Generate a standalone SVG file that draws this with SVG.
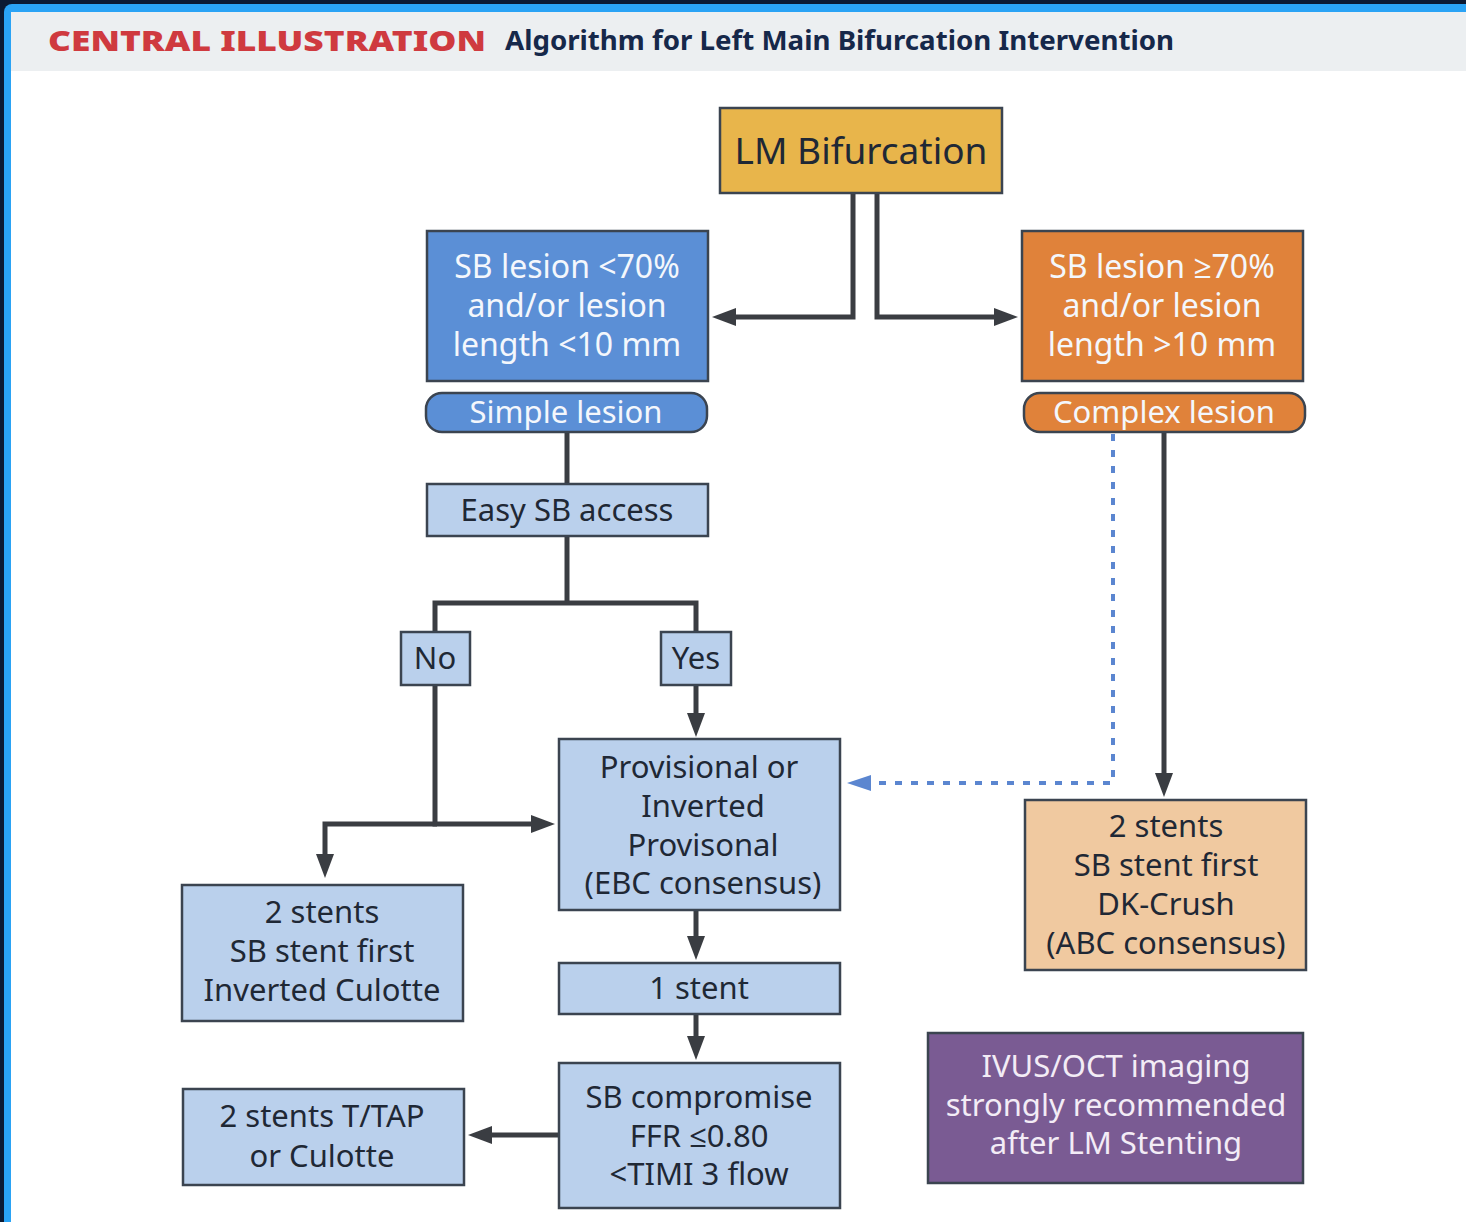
<svg xmlns="http://www.w3.org/2000/svg" width="1466" height="1222" viewBox="0 0 1466 1222">
<defs>
<style>
.box{stroke:#3b4450;stroke-width:2.5}
.lb{fill:#bad0ec}
.t{font-family:"Noto Sans","Open Sans","DejaVu Sans",sans-serif;font-size:31px;text-anchor:middle;fill:#1f2835}
.w{fill:#f4f7fc}
.big{font-size:37px}
.m{font-size:32px}
.pu{fill:#f3ecf6}
.c{fill:none;stroke:#3a3d42;stroke-width:5;stroke-linejoin:miter}
.d{fill:none;stroke:#5b86d0;stroke-width:4;stroke-dasharray:7 9}
</style>
<marker id="ah" markerUnits="userSpaceOnUse" markerWidth="24" markerHeight="18" refX="3" refY="9" orient="auto">
<path d="M0,0 L24,9 L0,18 z" fill="#3a3d42"/>
</marker>
<marker id="ahb" markerUnits="userSpaceOnUse" markerWidth="24" markerHeight="16" refX="3" refY="8" orient="auto">
<path d="M0,0 L24,8 L0,16 z" fill="#5b86d0"/>
</marker>
</defs>
<rect x="0" y="0" width="1466" height="1222" fill="#0b1a33"/>
<rect x="4" y="4" width="1480" height="1240" rx="8" fill="#2aa3f5"/>
<rect x="11" y="12" width="1470" height="1220" fill="#ffffff"/>
<rect x="11" y="12" width="1470" height="59" fill="#eceff1"/>
<g id="header">
<text x="48" y="51" font-family="Noto Sans,sans-serif" font-weight="900" font-size="29" fill="#cf3a3f" textLength="438" lengthAdjust="spacingAndGlyphs">CENTRAL ILLUSTRATION</text>
<text x="505" y="50" font-family="Noto Sans,sans-serif" font-weight="700" font-size="27" fill="#16284a" textLength="669" lengthAdjust="spacingAndGlyphs">Algorithm for Left Main Bifurcation Intervention</text>
</g>
<g id="connectors">
<path class="c" d="M853,193 V317 H733" marker-end="url(#ah)"/>
<path class="c" d="M877,193 V317 H997" marker-end="url(#ah)"/>
<path class="c" d="M567,432 V484"/>
<path class="c" d="M567,536 V603"/>
<path class="c" d="M435,632 V603 H696 V632"/>
<path class="c" d="M435,685 V824 H534" marker-end="url(#ah)"/>
<path class="c" d="M437,824 H325 V857" marker-end="url(#ah)"/>
<path class="c" d="M696,685 V716" marker-end="url(#ah)"/>
<path class="c" d="M696,910 V939" marker-end="url(#ah)"/>
<path class="c" d="M696,1014 V1039" marker-end="url(#ah)"/>
<path class="c" d="M559,1135 H489" marker-end="url(#ah)"/>
<path class="c" d="M1164,432 V776" marker-end="url(#ah)"/>
<path class="d" d="M1113,434 V783 H868" marker-end="url(#ahb)"/>
</g>
<g id="lm">
<rect class="box" x="720" y="108" width="282" height="85" fill="#e8b54b"/>
<text class="t big" x="861" y="164">LM Bifurcation</text>
</g>
<g id="sb-low">
<rect class="box" x="427" y="231" width="281" height="150" fill="#5b8fd6"/>
<text class="t w m" x="567" y="278">SB lesion &lt;70%</text>
<text class="t w m" x="567" y="317">and/or lesion</text>
<text class="t w m" x="567" y="356">length &lt;10 mm</text>
</g>
<g id="sb-high">
<rect class="box" x="1022" y="231" width="281" height="150" fill="#e0823a"/>
<text class="t w m" x="1162" y="278">SB lesion ≥70%</text>
<text class="t w m" x="1162" y="317">and/or lesion</text>
<text class="t w m" x="1162" y="356">length &gt;10 mm</text>
</g>
<g id="simple">
<rect class="box" x="426" y="393" width="281" height="39" rx="16" fill="#5b8fd6"/>
<text class="t w" x="566" y="423">Simple lesion</text>
</g>
<g id="complex">
<rect class="box" x="1024" y="393" width="281" height="39" rx="16" fill="#e0823a"/>
<text class="t w" x="1164" y="423">Complex lesion</text>
</g>
<g id="easy">
<rect class="box lb" x="427" y="484" width="281" height="52"/>
<text class="t" x="567" y="521">Easy SB access</text>
</g>
<g id="no">
<rect class="box lb" x="401" y="632" width="69" height="53"/>
<text class="t" x="435" y="669">No</text>
</g>
<g id="yes">
<rect class="box lb" x="661" y="632" width="70" height="53"/>
<text class="t" x="696" y="669">Yes</text>
</g>
<g id="provisional">
<rect class="box lb" x="559" y="739" width="281" height="171"/>
<text class="t" x="699" y="778">Provisional or</text>
<text class="t" x="703" y="817">Inverted</text>
<text class="t" x="703" y="856">Provisonal</text>
<text class="t" x="703" y="894">(EBC consensus)</text>
</g>
<g id="onestent">
<rect class="box lb" x="559" y="963" width="281" height="51"/>
<text class="t" x="699" y="999">1 stent</text>
</g>
<g id="sbcomp">
<rect class="box lb" x="559" y="1063" width="281" height="145"/>
<text class="t" x="699" y="1108">SB compromise</text>
<text class="t" x="699" y="1147">FFR ≤0.80</text>
<text class="t" x="699" y="1185">&lt;TIMI 3 flow</text>
</g>
<g id="ttap">
<rect class="box lb" x="183" y="1089" width="281" height="96"/>
<text class="t" x="322" y="1127">2 stents T/TAP</text>
<text class="t" x="322" y="1167">or Culotte</text>
</g>
<g id="culotte">
<rect class="box lb" x="182" y="885" width="281" height="136"/>
<text class="t" x="322" y="923">2 stents</text>
<text class="t" x="322" y="962">SB stent first</text>
<text class="t" x="322" y="1001">Inverted Culotte</text>
</g>
<g id="dkcrush">
<rect class="box" x="1025" y="800" width="281" height="170" fill="#f0c9a0"/>
<text class="t" x="1166" y="837">2 stents</text>
<text class="t" x="1166" y="876">SB stent first</text>
<text class="t" x="1166" y="915">DK-Crush</text>
<text class="t" x="1166" y="954">(ABC consensus)</text>
</g>
<g id="ivus">
<rect class="box" x="928" y="1033" width="375" height="150" fill="#7a5b93"/>
<text class="t pu" x="1116" y="1077">IVUS/OCT imaging</text>
<text class="t pu" x="1116" y="1116">strongly recommended</text>
<text class="t pu" x="1116" y="1154">after LM Stenting</text>
</g>
</svg>
